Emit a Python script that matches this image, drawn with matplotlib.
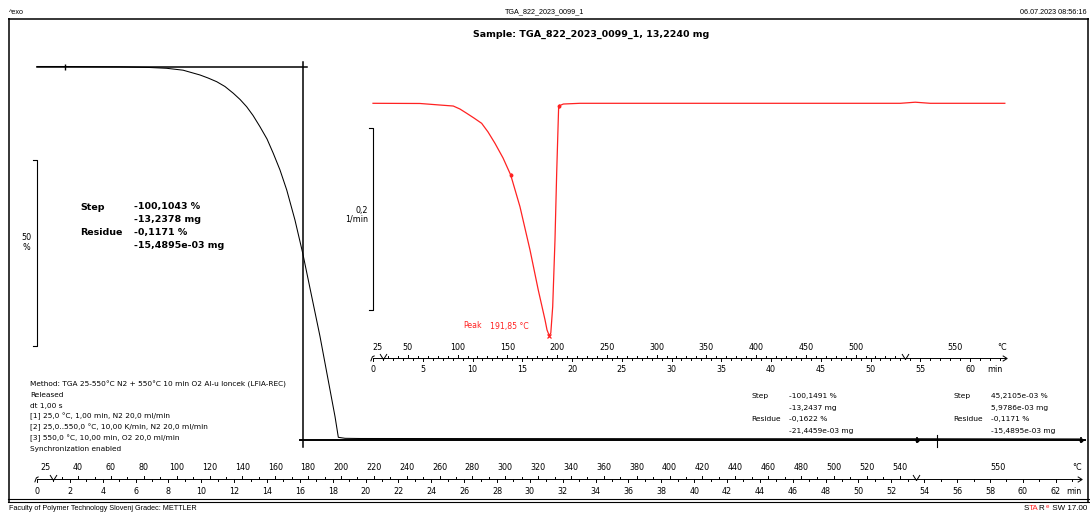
import numpy as np
import matplotlib
matplotlib.use("Agg")
import matplotlib.pyplot as plt
from matplotlib import transforms
from matplotlib.path import Path
from matplotlib.offsetbox import TextArea, HPacker, AnnotationBbox

# ---------------- header / annotation text ----------------
file_name = "TGA_822_2023_0099_1"
timestamp = "06.07.2023 08:56:16"
sample_title = "Sample: TGA_822_2023_0099_1, 13,2240 mg"
footer_left = "Faculty of Polymer Technology Slovenj Gradec: METTLER"
method_lines = [
    "Method: TGA 25-550°C N2 + 550°C 10 min O2 Al-u loncek (LFIA-REC)",
    "Released",
    "dt 1,00 s",
    "[1] 25,0 °C, 1,00 min, N2 20,0 ml/min",
    "[2] 25,0..550,0 °C, 10,00 K/min, N2 20,0 ml/min",
    "[3] 550,0 °C, 10,00 min, O2 20,0 ml/min",
    "Synchronization enabled",
]

# temperature program (min, °C, K/min)
t_hold1_end, t_ramp_end, t_end = 1.0, 53.5, 63.5
temp_start, temp_end, heating_rate = 25.0, 550.0, 10.0

# ---------------- TGA curve: mass (%) vs time (min) ----------------
tga_time = [0.0, 1.70, 5.05, 6.88, 7.89, 8.89, 9.92, 10.41, 10.94, 11.44,
            11.95, 12.36, 12.76, 13.15, 13.57, 14.00, 14.38, 14.79, 15.20,
            15.70, 16.17, 17.22, 18.14, 18.34, 18.75, 19.66,
            30.0, 45.0, 53.5, 63.5]
tga_mass = [100.0, 100.0, 99.92, 99.73, 99.52, 99.01, 97.72, 96.91, 95.91, 94.62,
            92.80, 91.13, 89.19, 86.83, 83.82, 80.51, 76.67, 72.18, 66.80,
            58.74, 49.87, 27.55, 5.86, 0.32, 0.05, 0.0,
            -0.03, -0.06, -0.07, -0.12]

# ---------------- DTG curve: rate (1/min) vs time (min) ----------------
dtg_time = [0.0, 4.72, 6.73, 8.07, 8.74, 9.42, 10.15, 10.92, 11.56, 12.26,
            13.07, 13.84, 14.77, 15.78, 16.61, 17.29, 17.49, 17.72, 17.87,
            18.06, 18.29, 18.46, 18.66, 19.13, 20.80, 35.0, 53.0, 54.5, 56.0,
            63.5]
dtg_rate = [0.0, -0.0002, -0.0019, -0.0030, -0.0063, -0.0110, -0.0162, -0.0220,
            -0.0315, -0.0440, -0.0601, -0.0788, -0.1136, -0.1612, -0.2052,
            -0.2381, -0.2491, -0.2554, -0.2524, -0.2235, -0.1502, -0.0769,
            -0.0030, -0.0008, 0.0, 0.0, 0.0, 0.0012, 0.0, 0.0]

# ---------------- evaluation results ----------------
peak_temp = 191.85
peak_label = ["Peak", "191,85 °C"]
dtg_limits = [13.84, 18.66]

main_eval_labels = ["Step", "", "Residue", ""]
main_eval_values = ["-100,1043 %", "-13,2378 mg", "-0,1171 %", "-15,4895e-03 mg"]
eval1_labels = ["Step", "", "Residue", ""]
eval1_values = ["-100,1491 %", "-13,2437 mg", "-0,1622 %", "-21,4459e-03 mg"]
eval2_labels = ["Step", "", "Residue", ""]
eval2_values = ["45,2105e-03 %", "5,9786e-03 mg", "-0,1171 %", "-15,4895e-03 mg"]

start_level = 100.0          # %
residue_level = -0.1171      # %
step_mid_time = 16.17        # min
step_line_end = 16.43        # min
baseline_start = 16.0        # min
baseline_end = 63.8          # min
left_limit = 1.70            # min
right_limits = [53.56, 63.54]
baseline_cross = 54.8

# axis tick labels
main_time_labels = list(range(0, 63, 2))
main_temp_labels = list(range(40, 541, 20))
dtg_time_labels = list(range(0, 61, 5))
dtg_temp_labels = list(range(50, 501, 50))

# scale bars
tga_bar = (25.0, 75.0)              # % (50 %)
dtg_bar = (-0.2275, -0.0275)        # 1/min (0,2)

RED = "#ff2222"
FONT = "DejaVu Sans"
ARIAL = "Liberation Sans"


def t_of_temp(T):
    return t_hold1_end + (T - temp_start) / heating_rate


W, H = 1090, 513
fig = plt.figure(figsize=(W / 100, H / 100), dpi=100)
page = fig.add_axes([0, 0, 1, 1])
page.set_xlim(0, W)
page.set_ylim(H, 0)
page.axis("off")


def box(x0, x1, y0, y1):
    return [x0 / W, (H - y1) / H, (x1 - x0) / W, (y1 - y0) / H]


ax_tga = fig.add_axes(box(37, 37 + 62 * 16.43, 66.5, 438.5))
ax_tga.set_xlim(0, 62)
ax_tga.set_ylim(0, 100)
ax_dtg = fig.add_axes(box(373, 373 + 60 * 9.95, 103.3, 103.3 + 0.25 * 910))
ax_dtg.set_xlim(0, 60)
ax_dtg.set_ylim(-0.25, 0)
for a in (ax_tga, ax_dtg):
    a.axis("off")
    a.patch.set_visible(False)

# ---------------- page frame and header/footer ----------------
fl = dict(color="black", lw=1.1, solid_capstyle="butt")
page.plot([8, 1088.5], [18.5, 18.5], **fl)
page.plot([8.5, 8.5], [18, 501.5], **fl)
page.plot([1088, 1088], [18, 501.5], **fl)
page.plot([8, 1088.5], [498.5, 498.5], color="black", lw=0.8)
page.plot([8, 1088.5], [501.5, 501.5], color="black", lw=0.8)

page.text(9, 12, "^exo", fontsize=5.2, family=ARIAL, va="center", ha="left")
page.text(545, 12, file_name, fontsize=5.2, family=ARIAL, va="center", ha="center")
page.text(1087, 12, timestamp, fontsize=5.2, family=ARIAL, va="center", ha="right")
page.text(591, 34, sample_title, fontsize=6.8, family=FONT, weight="bold",
          va="center", ha="center")
page.text(9, 509, footer_left, fontsize=5.2, family=ARIAL, va="center", ha="left")

# STARe SW logo text
logo_parts = [("S", "black"), ("TA", RED), ("R", "black"),
              (r"$^{\mathrm{e}}$", RED), (" SW 17.00", "black")]
logo = HPacker(children=[TextArea(s, textprops=dict(color=c, fontsize=5.8,
                                                    family=ARIAL))
                         for s, c in logo_parts],
               align="baseline", pad=0, sep=0)
page.add_artist(AnnotationBbox(logo, (1087, 509), xycoords="data",
                               box_alignment=(1, 0.5), frameon=False, pad=0))

# ---------------- method text ----------------
for i, line in enumerate(method_lines):
    page.text(30, 384 + 10.9 * i, line, fontsize=5.3, family=FONT,
              va="center", ha="left")

# ---------------- TGA curve and evaluation construction ----------------
ax_tga.plot(tga_time, tga_mass, color="black", lw=0.75, clip_on=False, zorder=3,
            solid_joinstyle="round")
ax_tga.plot([0, step_line_end], [start_level, start_level], color="black",
            lw=1.1, clip_on=False)
ax_tga.plot([step_mid_time, step_mid_time], [101.2, -2.3], color="black",
            lw=1.1, clip_on=False)
ax_tga.plot([baseline_start, baseline_end], [residue_level - 0.25] * 2,
            color="black", lw=1.4, clip_on=False)
tr_t = transforms.blended_transform_factory(ax_tga.transData, page.transData)
ax_tga.plot([baseline_cross, baseline_cross], [435, 447], color="black", lw=0.8,
            transform=tr_t, clip_on=False)
for t in [left_limit]:
    ax_tga.plot([t], [start_level], marker="|", ms=4, mew=1.0, color="black",
                clip_on=False)
for t in right_limits:
    ax_tga.plot([t], [residue_level - 0.25], marker="|", ms=4, mew=1.2,
                color="black", clip_on=False)
    ax_tga.plot([t], [residue_level - 0.25], marker="o", ms=2, color="black",
                clip_on=False)

# main evaluation text (bold)
for i, (lab, val) in enumerate(zip(main_eval_labels, main_eval_values)):
    y = 207 + 12.8 * i
    page.text(80, y, lab, fontsize=6.8, family=FONT, weight="bold",
              va="center", ha="left")
    page.text(134, y, val, fontsize=6.8, family=FONT, weight="bold",
              va="center", ha="left")

# secondary evaluation text
for labs, vals, xl, xv in [(eval1_labels, eval1_values, 751, 789),
                           (eval2_labels, eval2_values, 953, 991)]:
    for i, (lab, val) in enumerate(zip(labs, vals)):
        y = 396 + 11.7 * i
        page.text(xl, y, lab, fontsize=5.4, family=FONT, va="center", ha="left")
        page.text(xv, y, val, fontsize=5.4, family=FONT, va="center", ha="left")

# TGA scale bar
tr_bar = transforms.blended_transform_factory(page.transData, ax_tga.transData)
ax_tga.plot([33, 36.7, 36.7, 33], [tga_bar[1], tga_bar[1], tga_bar[0], tga_bar[0]],
            color="black", lw=0.8, transform=tr_bar, clip_on=False)
page.text(26, 238, "50", fontsize=5.8, family=FONT, ha="center", va="center")
page.text(26, 247, "%", fontsize=5.8, family=FONT, ha="center", va="center")

# ---------------- DTG curve ----------------
ax_dtg.plot(dtg_time, dtg_rate, color=RED, lw=0.9, clip_on=False, zorder=3,
            solid_joinstyle="round")
peak_t = t_of_temp(peak_temp)
peak_v = min(dtg_rate)
ax_dtg.plot([peak_t], [peak_v], marker="x", ms=3.5, mew=0.9, color=RED,
            clip_on=False)
for t in dtg_limits:
    v = np.interp(t, dtg_time, dtg_rate)
    ax_dtg.plot([t], [v], marker="|", ms=3.5, mew=1.0, color=RED, clip_on=False)
    ax_dtg.plot([t], [v], marker="o", ms=1.8, color=RED, clip_on=False)
page.text(463, 326, peak_label[0], fontsize=5.6, family=FONT, color=RED,
          va="center", ha="left")
page.text(490, 326, peak_label[1], fontsize=5.6, family=FONT, color=RED,
          va="center", ha="left")

tr_bar2 = transforms.blended_transform_factory(page.transData, ax_dtg.transData)
ax_dtg.plot([369, 372.7, 372.7, 369], [dtg_bar[1], dtg_bar[1], dtg_bar[0], dtg_bar[0]],
            color="black", lw=0.8, transform=tr_bar2, clip_on=False)
page.text(368, 210, "0,2", fontsize=5.8, family=FONT, ha="right", va="center")
page.text(368, 219.5, "1/min", fontsize=5.8, family=FONT, ha="right", va="center")

# ---------------- time / temperature axes ----------------
v_marker = Path([(-1, 1), (0, -0.6), (1, 1)],
                [Path.MOVETO, Path.LINETO, Path.LINETO])
arrow_marker = Path([(-1, 1), (0.6, 0), (-1, -1)],
                    [Path.MOVETO, Path.LINETO, Path.LINETO])
hook_marker = Path([(-1, -1), (-0.4, 0.6), (0.4, 1)],
                   [Path.MOVETO, Path.LINETO, Path.LINETO])


def time_axis(ax, y_line, y_temp, y_time, time_labels, time_major, temp_labels,
              temp_major, t_unit_pos, c_unit_pos):
    tr = transforms.blended_transform_factory(ax.transData, page.transData)
    kw = dict(color="black", lw=0.7, transform=tr, clip_on=False)
    ax.plot([0, t_end], [y_line, y_line], **kw)
    # time ticks below the line
    for t in range(0, int(t_end) + 1):
        ln = 3.2 if t % time_major == 0 else 1.8
        ax.plot([t, t], [y_line, y_line + ln], **kw)
    for t in time_labels:
        ax.text(t, y_time, str(t), fontsize=5.8, family=FONT, ha="center",
                va="center", transform=tr)
    # temperature ticks above the line (ramp segment only)
    for T in range(30, int(temp_end), 10):
        ln = 3.2 if T % temp_major == 0 else 1.8
        tt = t_of_temp(T)
        ax.plot([tt, tt], [y_line, y_line - ln], **kw)
    for T in temp_labels:
        ax.text(t_of_temp(T), y_temp, str(T), fontsize=5.8, family=FONT,
                ha="center", va="center", transform=tr)
    ax.text(t_hold1_end / 2, y_temp, f"{temp_start:.0f}", fontsize=5.8,
            family=FONT, ha="center", va="center", transform=tr)
    ax.text((t_ramp_end + t_end) / 2, y_temp, f"{temp_end:.0f}", fontsize=5.8,
            family=FONT, ha="center", va="center", transform=tr)
    ax.text(c_unit_pos, y_temp, "°C", fontsize=5.8, family=FONT, ha="center",
            va="center", transform=tr)
    ax.text(t_unit_pos, y_time, "min", fontsize=5.8, family=FONT, ha="center",
            va="center", transform=tr)
    # segment markers
    for t in (t_hold1_end, t_ramp_end):
        ax.plot([t], [y_line - 1], marker=v_marker, ms=5, mew=0.7,
                mfc="none", mec="black", transform=tr, clip_on=False)
    ax.plot([t_end], [y_line], marker=arrow_marker, ms=4, mew=0.7, mfc="none",
            mec="black", transform=tr, clip_on=False)
    ax.plot([0], [y_line], marker=hook_marker, ms=4, mew=0.7, mfc="none",
            mec="black", transform=tr, clip_on=False)


time_axis(ax_tga, 479, 468, 491, main_time_labels, 2, main_temp_labels, 20,
          63.1, 63.3)
time_axis(ax_dtg, 357.7, 347.7, 370, dtg_time_labels, 5, dtg_temp_labels, 50,
          62.5, 63.2)

fig.savefig("out.png", dpi=100)
